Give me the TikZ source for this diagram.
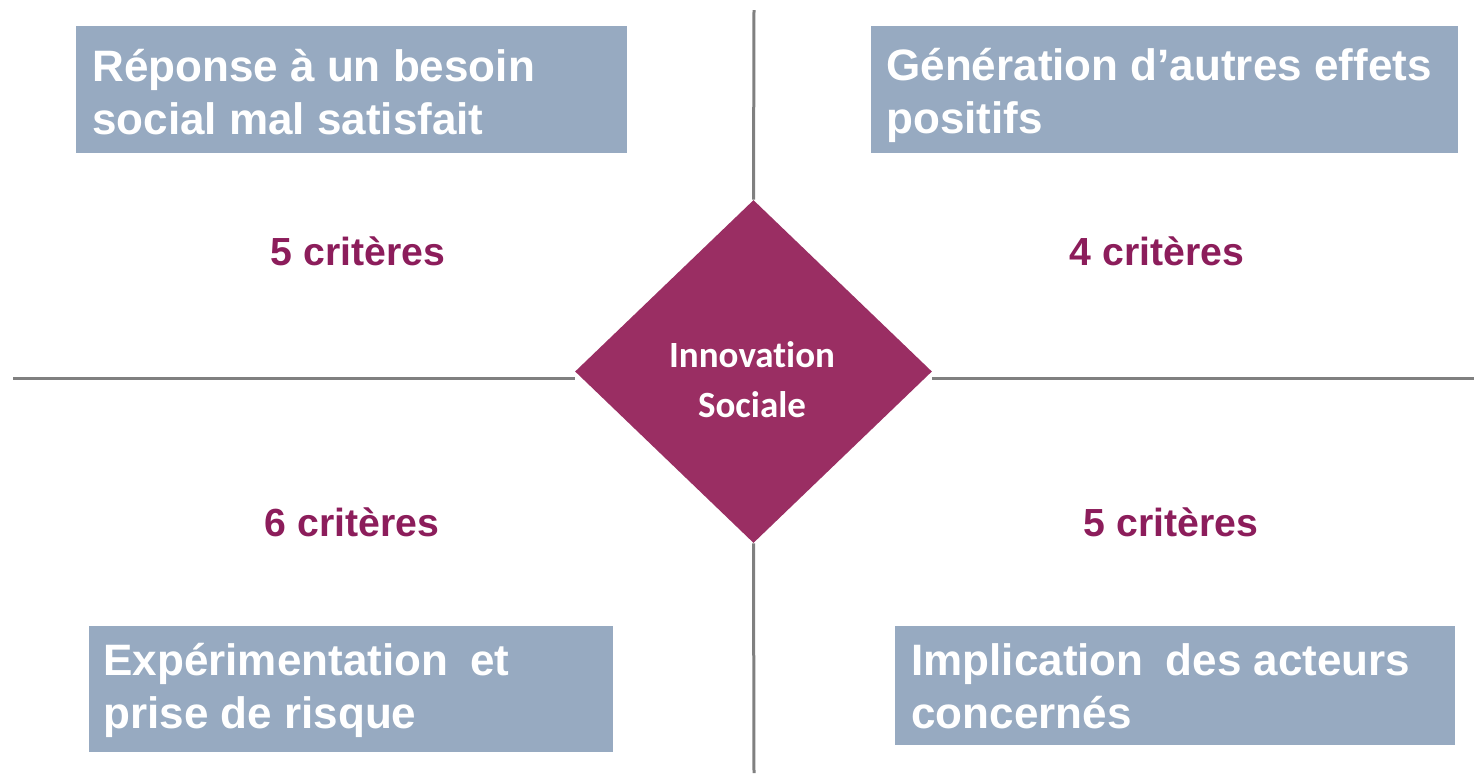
\documentclass[tikz,border=0pt]{standalone}
\usepackage{fontspec}
\setmainfont{Liberation Sans}
\newfontfamily\diafont[Ligatures=NoCommon]{Carlito}
\usetikzlibrary{shapes.geometric}
\definecolor{boxblue}{HTML}{97AAC1}
\definecolor{diamag}{HTML}{9A2E63}
\definecolor{critmag}{HTML}{8C1D5B}
\definecolor{axisgrey}{HTML}{808080}
\tikzset{
  catbox/.style={fill=boxblue, draw=none, anchor=north west, inner sep=0pt},
  cattext/.style={text=white, font=\fontsize{22}{26.5}\selectfont\bfseries, align=left, anchor=west, inner sep=0pt},
  crit/.style={text=critmag, font=\fontsize{19.6}{22}\selectfont\bfseries, inner sep=0pt},
  axis/.style={draw=axisgrey, line width=1.5pt},
}
\begin{document}
\begin{tikzpicture}[x=0.5pt,y=-0.5pt]
\useasboundingbox[fill=white] (0,0) rectangle (1474,773);
% axes endpoints
\coordinate (top) at (754,10);
\coordinate (bot) at (754,773);
\coordinate (lft) at (13,378);
\coordinate (rgt) at (1474,378);
% diamond
\node[diamond, fill=diamag, draw=none, aspect=1, inner sep=0pt,
      minimum width=178.5pt, minimum height=171.5pt] (dia) at (753.5,371.5) {};
\node[text=white, font=\diafont\fontsize{18.5}{25}\selectfont\bfseries, align=center, inner sep=0pt] (diatext) at (752,380) {Innovation\\Sociale};
\draw[axis] (top) -- (dia.north);
\draw[axis] (dia.south) -- (bot);
\draw[axis] (lft) -- (lft -| dia.west);
\draw[axis] (rgt -| dia.east) -- (rgt);
% boxes
\node[catbox, minimum width=275.5pt, minimum height=63.5pt] (b1) at (76,26) {};
\node[catbox, minimum width=293.5pt, minimum height=63.5pt] (b2) at (871,26) {};
\node[catbox, minimum width=262pt, minimum height=63pt] (b3) at (89,626) {};
\node[catbox, minimum width=280pt, minimum height=59.5pt] (b4) at (895,626) {};
\node[cattext] (t1) at (92,92) {Réponse à un besoin\\social mal satisfait};
\node[cattext] (t2) at (886,95) {Génération d’autres effets\\positifs};
\node[cattext] (t3) at (103,690) {Expérimentation\hspace{0.5em}et\\prise de risque};
\node[cattext] (t4) at (911,686) {Implication\hspace{0.5em}des acteurs\\concernés};
% criteria
\node[crit] (c1) at (358,251) {5 critères};
\node[crit] (c2) at (1157,251) {4 critères};
\node[crit] (c3) at (352,522) {6 critères};
\node[crit] (c4) at (1171,522) {5 critères};
\end{tikzpicture}
\end{document}
